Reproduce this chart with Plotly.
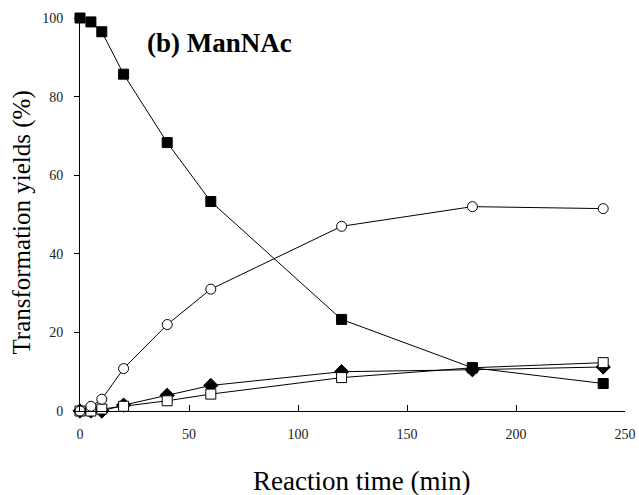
import plotly.graph_objects as go

time = [0, 5, 10, 20, 40, 60, 120, 180, 240]
mannac = [100, 99, 96.5, 85.7, 68.3, 53.3, 23.3, 11.0, 7.0]
circle = [0, 1.2, 3.0, 10.8, 22.0, 31.0, 47.0, 52.0, 51.5]
diamond = [0, 0, 0, 1.5, 4.0, 6.5, 10.0, 10.5, 11.2]
open_sq = [0, 0, 0.5, 1.2, 2.6, 4.3, 8.5, 11.0, 12.3]

font = "Liberation Serif"
fig = go.Figure()

def add(y, symbol, fill, size):
    fig.add_trace(go.Scatter(
        x=time, y=y, mode="lines+markers", cliponaxis=False,
        line=dict(color="black", width=1),
        marker=dict(symbol=symbol, size=size, color=fill,
                    line=dict(color="black", width=1)),
        showlegend=False))

add(diamond, "diamond", "black", 11)
add(open_sq, "square", "white", 10)
add(circle, "circle", "white", 10)
add(mannac, "square", "black", 10)

fig.update_layout(
    width=639, height=495,
    margin=dict(l=80, r=14, t=18, b=84),
    plot_bgcolor="white", paper_bgcolor="white",
    font=dict(family=font, color="black"),
    xaxis=dict(range=[0, 250], tickvals=[0, 50, 100, 150, 200, 250],
               showline=True, linecolor="black", linewidth=1,
               ticks="inside", ticklen=6, tickcolor="black",
               showgrid=False, zeroline=False, automargin=False,
               ticklabelstandoff=10,
               tickfont=dict(size=14, family=font, color="#222")),
    yaxis=dict(range=[0, 100], tickvals=[0, 20, 40, 60, 80, 100],
               showline=True, linecolor="black", linewidth=1,
               ticks="outside", ticklen=5, tickcolor="black",
               showgrid=False, zeroline=False, automargin=False,
               ticklabelstandoff=8,
               tickfont=dict(size=14, family=font, color="#222")),
)
fig.add_annotation(text="Reaction time (min)", xref="paper", yref="paper",
                   x=0.517, y=-0.177, xanchor="center", yanchor="middle",
                   showarrow=False, font=dict(size=27, family=font, color="black"))
fig.add_annotation(text="Transformation yields (%)", xref="paper", yref="paper",
                   x=-0.106, y=0.48, xanchor="center", yanchor="middle", textangle=-90,
                   showarrow=False, font=dict(size=25, family=font, color="black"))
fig.add_annotation(text="<b>(b) ManNAc</b>", xref="paper", yref="paper",
                   x=0.119, y=0.936, xanchor="left", yanchor="middle",
                   showarrow=False, font=dict(size=27, family=font, color="black"))
fig.write_html("out.html")
